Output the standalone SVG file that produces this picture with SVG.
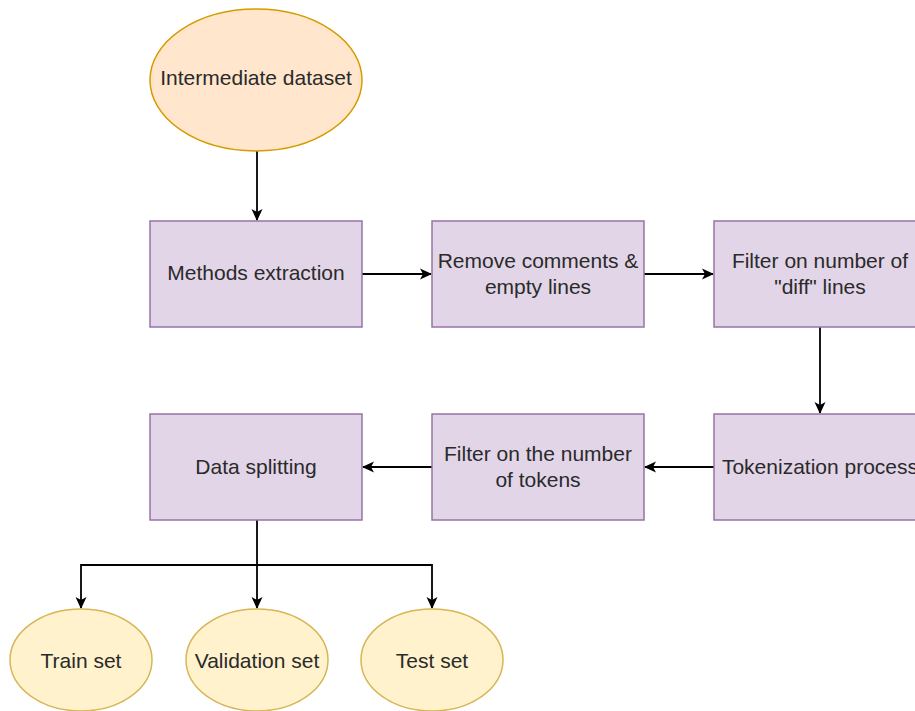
<svg xmlns="http://www.w3.org/2000/svg" width="915" height="711" viewBox="0 0 915 711">
<defs>
<marker id="ah" viewBox="0 0 12 12" refX="11" refY="6" markerWidth="12" markerHeight="12" markerUnits="userSpaceOnUse" orient="auto">
<path d="M0,0.5 L12,6 L0,11.5 L3,6 Z" fill="#000"/>
</marker>
<style>
.box{fill:#e1d5e7;stroke:#9673a6;stroke-width:1.5}
.top{fill:#ffe6cc;stroke:#d79b00;stroke-width:1.5}
.out{fill:#fff2cc;stroke:#d6b656;stroke-width:1.5}
.t{font-family:"Liberation Sans",Arial,sans-serif;font-size:21px;fill:#2a2a2a;text-anchor:middle}
.c{fill:none;stroke:#000;stroke-width:1.8;marker-end:url(#ah)}
.l{fill:none;stroke:#000;stroke-width:1.8}
</style>
</defs>
<rect width="915" height="711" fill="#fff"/>
<g id="connectors">
<path class="c" d="M257,151 V220"/>
<path class="c" d="M362,274 H431"/>
<path class="c" d="M644,274 H713"/>
<path class="c" d="M820,327 V413"/>
<path class="c" d="M714,467 H645"/>
<path class="c" d="M432,467 H363"/>
<path class="l" d="M257,520 V565"/>
<path class="c" d="M257,565 H81 V608"/>
<path class="c" d="M257,565 V608"/>
<path class="c" d="M257,565 H432 V608"/>
</g>
<g id="intermediate">
<ellipse class="top" cx="256" cy="80" rx="106" ry="71"/>
<text class="t" x="256" y="85">Intermediate dataset</text>
</g>
<g id="methods">
<rect class="box" x="150" y="221" width="212" height="106"/>
<text class="t" x="256" y="280">Methods extraction</text>
</g>
<g id="remove">
<rect class="box" x="432" y="221" width="212" height="106"/>
<text class="t" x="538" y="268">Remove comments &amp;</text>
<text class="t" x="538" y="294">empty lines</text>
</g>
<g id="filterdiff">
<rect class="box" x="714" y="221" width="212" height="106"/>
<text class="t" x="820" y="268">Filter on number of</text>
<text class="t" x="820" y="294">"diff" lines</text>
</g>
<g id="tokenization">
<rect class="box" x="714" y="414" width="212" height="106"/>
<text class="t" x="820" y="474">Tokenization process</text>
</g>
<g id="filtertokens">
<rect class="box" x="432" y="414" width="212" height="106"/>
<text class="t" x="538" y="461">Filter on the number</text>
<text class="t" x="538" y="487">of tokens</text>
</g>
<g id="splitting">
<rect class="box" x="150" y="414" width="212" height="106"/>
<text class="t" x="256" y="474">Data splitting</text>
</g>
<g id="train">
<ellipse class="out" cx="81" cy="660" rx="71" ry="51"/>
<text class="t" x="81" y="668">Train set</text>
</g>
<g id="validation">
<ellipse class="out" cx="257" cy="660" rx="71" ry="51"/>
<text class="t" x="257" y="668">Validation set</text>
</g>
<g id="test">
<ellipse class="out" cx="432" cy="660" rx="71" ry="51"/>
<text class="t" x="432" y="668">Test set</text>
</g>
</svg>
